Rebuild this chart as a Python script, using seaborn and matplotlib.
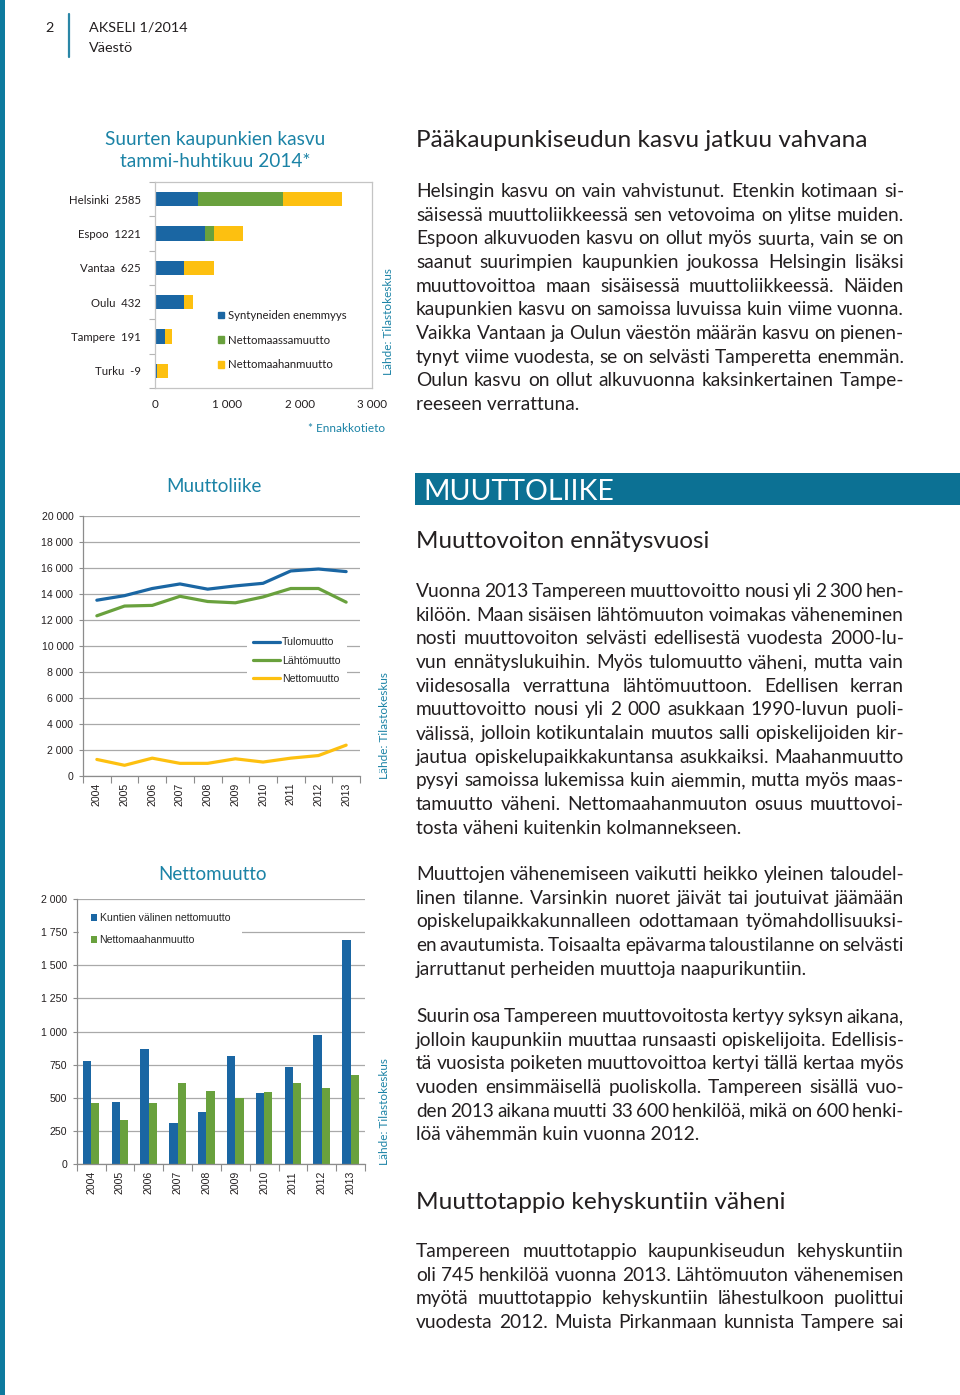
import numpy as np
import pandas as pd
import matplotlib
matplotlib.use("Agg")
import matplotlib.pyplot as plt
from matplotlib.patches import Rectangle, Patch
import seaborn as sns

# Suurten kaupunkien kasvu tammi-huhtikuu 2014
cities = ["Helsinki", "Espoo", "Vantaa", "Oulu", "Tampere", "Turku"]
city_totals = [2585, 1221, 625, 432, 191, -9]
births_surplus = [590, 690, 406, 406, 143, 23]
net_domestic = [1177, 125, -192, -94, -44, -194]
net_immigration = [818, 406, 411, 120, 92, 162]
growth_series = ["Syntyneiden enemmyys", "Nettomaassamuutto", "Nettomaahanmuutto"]

# Muuttoliike
years = [2004, 2005, 2006, 2007, 2008, 2009, 2010, 2011, 2012, 2013]
in_migration = [13500, 13850, 14400, 14750, 14350, 14600, 14800, 15750, 15900, 15700]
out_migration = [12300, 13050, 13100, 13800, 13400, 13300, 13750, 14400, 14400, 13350]
net_migration = [1250, 800, 1350, 950, 950, 1300, 1050, 1350, 1550, 2350]
migration_series = ["Tulomuutto", "Lähtömuutto", "Nettomuutto"]

# Nettomuutto
net_municipal = [780, 465, 870, 310, 395, 815, 535, 735, 970, 1690]
net_foreign = [460, 330, 460, 615, 550, 500, 540, 615, 575, 675]
net_series = ["Kuntien välinen nettomuutto", "Nettomaahanmuutto"]

# page text
para1 = ["Helsingin kasvu on vain vahvistunut. Etenkin kotimaan si-",
         "säisessä muuttoliikkeessä sen vetovoima on ylitse muiden.",
         "Espoon alkuvuoden kasvu on ollut myös suurta, vain se on",
         "saanut suurimpien kaupunkien joukossa Helsingin lisäksi",
         "muuttovoittoa maan sisäisessä muuttoliikkeessä. Näiden",
         "kaupunkien kasvu on samoissa luvuissa kuin viime vuonna.",
         "Vaikka Vantaan ja Oulun väestön määrän kasvu on pienen-",
         "tynyt viime vuodesta, se on selvästi Tamperetta enemmän.",
         "Oulun kasvu on ollut alkuvuonna kaksinkertainen Tampe-",
         "reeseen verrattuna."]
para2 = ["Vuonna 2013 Tampereen muuttovoitto nousi yli 2 300 hen-",
         "kilöön. Maan sisäisen lähtömuuton voimakas väheneminen",
         "nosti muuttovoiton selvästi edellisestä vuodesta 2000-lu-",
         "vun ennätyslukuihin. Myös tulomuutto väheni, mutta vain",
         "viidesosalla verrattuna lähtömuuttoon. Edellisen kerran",
         "muuttovoitto nousi yli 2 000 asukkaan 1990-luvun puoli-",
         "välissä, jolloin kotikuntalain muutos salli opiskelijoiden kir-",
         "jautua opiskelupaikkakuntansa asukkaiksi. Maahanmuutto",
         "pysyi samoissa lukemissa kuin aiemmin, mutta myös maas-",
         "tamuutto väheni. Nettomaahanmuuton osuus muuttovoi-",
         "tosta väheni kuitenkin kolmannekseen."]
para3 = ["Muuttojen vähenemiseen vaikutti heikko yleinen taloudel-",
         "linen tilanne. Varsinkin nuoret jäivät tai joutuivat jäämään",
         "opiskelupaikkakunnalleen odottamaan työmahdollisuuksi-",
         "en avautumista. Toisaalta epävarma taloustilanne on selvästi",
         "jarruttanut perheiden muuttoja naapurikuntiin."]
para4 = ["Suurin osa Tampereen muuttovoitosta kertyy syksyn aikana,",
         "jolloin kaupunkiin muuttaa runsaasti opiskelijoita. Edellisis-",
         "tä vuosista poiketen muuttovoittoa kertyi tällä kertaa myös",
         "vuoden ensimmäisellä puoliskolla. Tampereen sisällä vuo-",
         "den 2013 aikana muutti 33 600 henkilöä, mikä on 600 henki-",
         "löä vähemmän kuin vuonna 2012."]
para5 = ["Tampereen muuttotappio kaupunkiseudun kehyskuntiin",
         "oli 745 henkilöä vuonna 2013. Lähtömuuton vähenemisen",
         "myötä muuttotappio kehyskuntiin lähestulkoon puolittui",
         "vuodesta 2012. Muista Pirkanmaan kunnista Tampere sai"]

sns.set_theme(style="white")
BODY = ["Lato", "DejaVu Sans"]
ARIAL = ["Liberation Sans", "DejaVu Sans"]
plt.rcParams["font.family"] = BODY

INK = "#231f20"
TEAL = "#1b83a6"
BANNER = "#0c7194"
GRID = "#a9a9a9"
AXIS = "#8c8c8c"
BLUE = "#1a66a3"
GREEN = "#69a13d"
YELLOW = "#fdc010"

W, H = 960, 1395
fig = plt.figure(figsize=(W / 100, H / 100), dpi=100)
page = fig.add_axes([0, 0, 1, 1])
page.set_xlim(0, W)
page.set_ylim(H, 0)
page.axis("off")
renderer = fig.canvas.get_renderer()


def rect(x0, y0, x1, y1):
    return [x0 / W, 1 - y1 / H, (x1 - x0) / W, (y1 - y0) / H]


def body_line(y, s, justify, size=13.75, x0=416, x1=904):
    kw = dict(family=BODY, color=INK, va="baseline", ha="left")
    if not justify:
        page.text(x0, y, s, fontsize=size, **kw)
        return
    words = s.split()
    while True:
        ts = [page.text(x0, y, w, fontsize=size, **kw) for w in words]
        ws = [t.get_window_extent(renderer).width for t in ts]
        gap = (x1 - x0 - sum(ws)) / (len(ws) - 1)
        if gap >= size * 0.19:
            break
        for t in ts:
            t.remove()
        size *= 0.99
    x = x0
    for t, w in zip(ts, ws):
        t.set_x(x)
        x += w + gap


def paragraph(y0, lines, last_justified=False, step=23.65):
    for i, s in enumerate(lines):
        just = last_justified or i < len(lines) - 1
        body_line(y0 + i * step, s, just)


# page frame and header
page.add_patch(Rectangle((0, 0), 4.5, H, color="#0d7a9e", lw=0))
page.plot([69, 69], [14, 57], color="#2a86a6", lw=1.6)
page.text(45, 32, "2", fontsize=10.4, color=INK, va="baseline")
page.text(89, 32, "AKSELI 1/2014", fontsize=10.4, color=INK, va="baseline")
page.text(89, 52.5, "Väestö", fontsize=10.4, color=INK, va="baseline")

# right column text
page.text(416, 147, "Pääkaupunkiseudun kasvu jatkuu vahvana", fontsize=17.6,
          color=INK, va="baseline")
paragraph(197, para1)
page.add_patch(Rectangle((415, 473), W - 415, 32, color=BANNER, lw=0))
page.text(423, 500.5, "MUUTTOLIIKE", fontsize=20.5, color="white", va="baseline")
page.text(416, 548.5, "Muuttovoiton ennätysvuosi", fontsize=17.4, color=INK,
          va="baseline")
paragraph(597, para2)
paragraph(880, para3)
paragraph(1022, para4)
page.text(416, 1209, "Muuttotappio kehyskuntiin väheni", fontsize=17.6,
          color=INK, va="baseline")
paragraph(1257, para5, last_justified=True)

# chart 1: Suurten kaupunkien kasvu
page.text(215, 145, "Suurten kaupunkien kasvu", fontsize=13.7, color=TEAL,
          ha="center", va="baseline")
page.text(215, 167, "tammi-huhtikuu 2014*", fontsize=13.7, color=TEAL,
          ha="center", va="baseline")
ax1 = fig.add_axes(rect(155, 182, 372, 388))
ypos = np.arange(len(cities))
stack = np.array([births_surplus, net_domestic, net_immigration], dtype=float)
pos = np.zeros(len(cities))
neg = np.zeros(len(cities))
for name, v, c in zip(growth_series, stack, [BLUE, GREEN, YELLOW]):
    left = np.where(v >= 0, pos, neg + v)
    ax1.barh(ypos, np.abs(v), left=left, height=0.42, color=c, label=name, lw=0)
    pos += np.where(v >= 0, v, 0)
    neg += np.where(v < 0, v, 0)
ax1.set_xlim(0, 3000)
ax1.set_ylim(len(cities) - 0.5, -0.5)
ax1.set_xticks([0, 1000, 2000, 3000])
ax1.set_xticklabels([f"{v:,}".replace(",", " ") for v in [0, 1000, 2000, 3000]])
ax1.set_yticks(ypos)
ax1.set_yticklabels([f"{c}  {t}" for c, t in zip(cities, city_totals)])
ax1.set_yticks(np.arange(len(cities) + 1) - 0.5, minor=True)
ax1.tick_params(axis="y", which="major", length=0, pad=10, labelsize=8.2,
                labelcolor=INK)
ax1.tick_params(axis="y", which="minor", left=True, length=4, color="#b5b5b5",
                width=0.8)
ax1.tick_params(axis="x", length=0, pad=8, labelsize=8.4, labelcolor=INK)
for s in ax1.spines.values():
    s.set_color("#c4c4c4")
    s.set_linewidth(0.9)
ax1.legend(handles=[Patch(color=c, label=n) for c, n in
                    zip([BLUE, GREEN, YELLOW], growth_series)],
           loc="upper left", bbox_to_anchor=(218, 310), bbox_transform=page.transData,
           frameon=False, fontsize=8.2, handlelength=0.55, handleheight=0.55,
           handletextpad=0.35, labelspacing=1.2, borderpad=0, borderaxespad=0,
           labelcolor=INK)
page.text(388, 322, "Lähde: Tilastokeskus", rotation=90, fontsize=8.5,
          color=TEAL, ha="center", va="center")
page.text(385, 432, "* Ennakkotieto", fontsize=8.5, color=TEAL, ha="right",
          va="baseline")

# chart 2: Muuttoliike
page.text(214, 491.5, "Muuttoliike", fontsize=13.5, color=TEAL, ha="center",
          va="baseline")
ax2 = fig.add_axes(rect(83, 515.7, 360, 775.7))
df2 = pd.DataFrame({"vuosi": years * 3,
                    "sarja": sum([[s] * len(years) for s in migration_series], []),
                    "arvo": in_migration + out_migration + net_migration})
sns.lineplot(data=df2, x="vuosi", y="arvo", hue="sarja", hue_order=migration_series,
             palette=[BLUE, GREEN, YELLOW], lw=2.3, ax=ax2)
ax2.set_xlim(years[0] - 0.5, years[-1] + 0.5)
ax2.set_ylim(0, 20000)
yt2 = list(range(0, 20001, 2000))
ax2.set_yticks(yt2)
ax2.set_yticklabels([f"{v:,}".replace(",", " ") for v in yt2])
ax2.set_xticks(years)
ax2.set_xticklabels([str(y) for y in years], rotation=90)
ax2.set_xticks(np.arange(years[0] - 0.5, years[-1] + 1), minor=True)
ax2.set_xlabel("")
ax2.set_ylabel("")
ax2.yaxis.grid(True, color=GRID, lw=0.9)
ax2.set_axisbelow(True)

# chart 3: Nettomuutto
page.text(213, 880, "Nettomuutto", fontsize=13.5, color=TEAL, ha="center",
          va="baseline")
ax3 = fig.add_axes(rect(76.7, 899, 365, 1164))
df3 = pd.DataFrame({"vuosi": years * 2,
                    "sarja": sum([[s] * len(years) for s in net_series], []),
                    "arvo": net_municipal + net_foreign})
sns.barplot(data=df3, x="vuosi", y="arvo", hue="sarja", hue_order=net_series,
            palette=[BLUE, GREEN], width=0.58, saturation=1, lw=0, ax=ax3)
ax3.set_xlim(-0.5, len(years) - 0.5)
ax3.set_ylim(0, 2000)
yt3 = list(range(0, 2001, 250))
ax3.set_yticks(yt3)
ax3.set_yticklabels([f"{v:,}".replace(",", " ") for v in yt3])
ax3.set_xticks(range(len(years)))
ax3.set_xticklabels([str(y) for y in years], rotation=90)
ax3.set_xticks(np.arange(len(years) + 1) - 0.5, minor=True)
ax3.set_xlabel("")
ax3.set_ylabel("")
ax3.yaxis.grid(True, color=GRID, lw=0.9)
ax3.set_axisbelow(True)

for ax in (ax2, ax3):
    sns.despine(ax=ax)
    for side in ("left", "bottom"):
        ax.spines[side].set_color(AXIS)
        ax.spines[side].set_linewidth(0.9)
    ax.tick_params(axis="y", left=True, length=3, width=0.8, color=AXIS, pad=4,
                   labelsize=7.6, labelcolor=INK)
    ax.tick_params(axis="x", which="major", length=0, pad=5, labelsize=7.6,
                   labelcolor=INK)
    ax.tick_params(axis="x", which="minor", bottom=True, length=5, width=0.8,
                   color=AXIS)
    for lab in ax.get_xticklabels() + ax.get_yticklabels():
        lab.set_family(ARIAL)

h2, l2 = ax2.get_legend_handles_labels()
ax2.legend(h2, l2, loc="upper left", bbox_to_anchor=(247, 631),
           bbox_transform=page.transData, frameon=True, facecolor="white",
           edgecolor="none", framealpha=1, fancybox=False,
           prop={"family": ARIAL, "size": 7.6}, handlelength=2.5,
           handletextpad=0.2, labelspacing=0.78, borderpad=0.6, borderaxespad=0)
h3, l3 = ax3.get_legend_handles_labels()
ax3.legend(h3, l3, loc="upper left", bbox_to_anchor=(79, 901),
           bbox_transform=page.transData, frameon=True, facecolor="white",
           edgecolor="none", framealpha=1, fancybox=False,
           prop={"family": ARIAL, "size": 7.6}, handlelength=0.55,
           handleheight=0.55, handletextpad=0.25, labelspacing=1.15,
           borderpad=1.15, borderaxespad=0)

page.text(385, 726, "Lähde: Tilastokeskus", rotation=90, fontsize=8.5,
          color=TEAL, ha="center", va="center")
page.text(385, 1112, "Lähde: Tilastokeskus", rotation=90, fontsize=8.5,
          color=TEAL, ha="center", va="center")

fig.savefig("out.png", dpi=100)
